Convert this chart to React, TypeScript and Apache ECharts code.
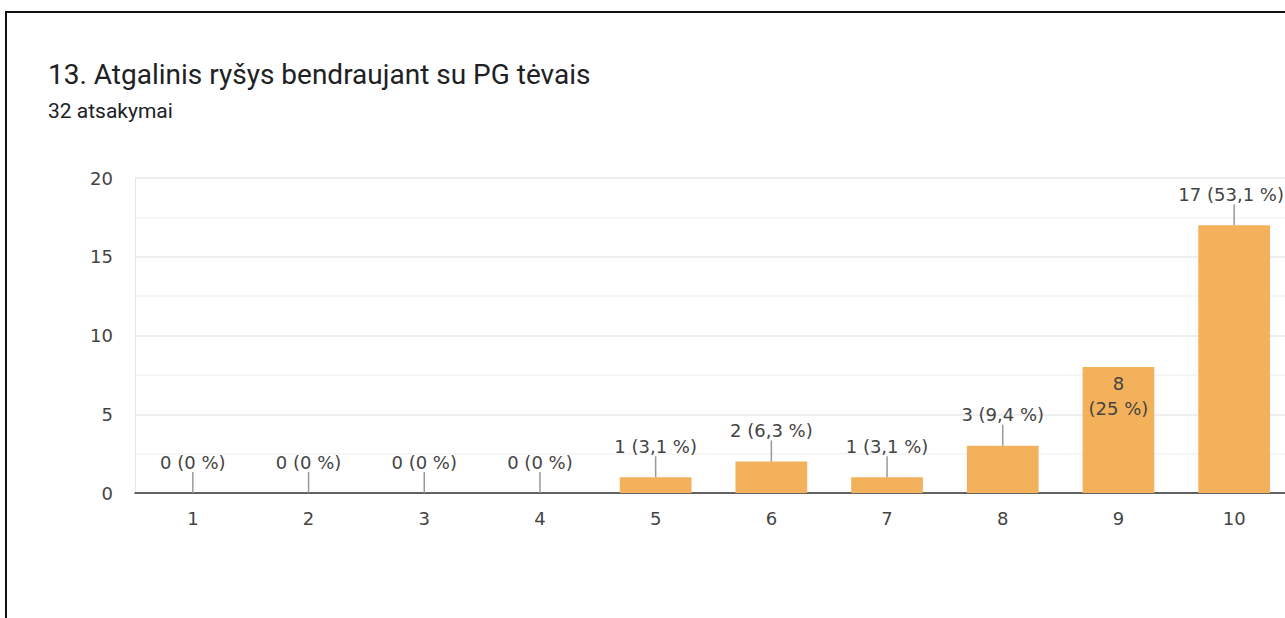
import React, { useEffect, useRef } from "react";
import * as echarts from "echarts";

const titleText = "13. Atgalinis ryšys bendraujant su PG tėvais";
const subtitleText = "32 atsakymai";
const categories = ["1", "2", "3", "4", "5", "6", "7", "8", "9", "10"];
const counts = [0, 0, 0, 0, 1, 2, 1, 3, 8, 17];
const total = 32;
const yTicks = { min: 0, max: 20, interval: 5 };
const insideLabelIndex = 8;
const edgeLabelIndex = 9;

const BAR_COLOR = "#F4B15B";
const TEXT_COLOR = "#444444";
const NUM_FONT = "DejaVu Sans";

function pct(v: number): string {
  let s = ((v / total) * 100).toFixed(1);
  if (s.endsWith(".0")) s = s.slice(0, -2);
  return s.replace(".", ",");
}

export default function App() {
  const ref = useRef<HTMLDivElement>(null);
  useEffect(() => {
    if (!ref.current) return;
    const chart = echarts.init(ref.current, null, { renderer: "svg" });
    const barData = counts.map((v, i) => {
      if (i === insideLabelIndex) {
        return {
          value: v,
          label: {
            show: true,
            position: "insideTop",
            distance: 4,
            lineHeight: 25,
            formatter: () => `${v}\n(${pct(v)} %)`,
          },
        };
      }
      if (i === edgeLabelIndex) {
        return { value: v, label: { show: true, offset: [-3, 0] } };
      }
      return { value: v };
    });
    const leaderData = counts
      .map((v, i) => [i, v])
      .filter((d) => d[0] !== insideLabelIndex);

    chart.setOption({
      animation: false,
      backgroundColor: "#ffffff",
      title: {
        text: titleText,
        subtext: subtitleText,
        left: 48,
        top: 60,
        itemGap: 12,
        padding: 0,
        textStyle: {
          fontFamily: "Roboto",
          fontSize: 28,
          fontWeight: "normal",
          color: "#202124",
        },
        subtextStyle: {
          fontFamily: "Roboto",
          fontSize: 21,
          color: "#202124",
        },
      },
      graphic: [
        {
          type: "rect",
          shape: { x: 6, y: 12, width: 1400, height: 800 },
          style: { fill: "none", stroke: "#111111", lineWidth: 2 },
          silent: true,
          z: 100,
        },
      ],
      grid: { left: 135, top: 178, width: 1157, height: 315 },
      xAxis: {
        type: "category",
        data: categories,
        axisLine: { show: true, lineStyle: { color: "#333333", width: 1.5 } },
        axisTick: { show: false },
        axisLabel: {
          margin: 15,
          fontSize: 18,
          lineHeight: 20,
          fontFamily: NUM_FONT,
          color: TEXT_COLOR,
        },
        splitLine: { show: false },
      },
      yAxis: {
        type: "value",
        min: yTicks.min,
        max: yTicks.max,
        interval: yTicks.interval,
        axisLine: { show: true, lineStyle: { color: "#e6e6e6", width: 1 } },
        axisTick: { show: false },
        axisLabel: {
          margin: 22,
          fontSize: 18,
          fontFamily: NUM_FONT,
          color: TEXT_COLOR,
        },
        splitLine: { show: true, lineStyle: { color: "#e8e8e8", width: 1.5 } },
        minorTick: { show: false, splitNumber: 2 },
        minorSplitLine: { show: true, lineStyle: { color: "#f3f3f3", width: 1.5 } },
      },
      series: [
        {
          type: "bar",
          data: barData,
          barWidth: "62%",
          itemStyle: { color: BAR_COLOR },
          label: {
            show: true,
            position: "top",
            distance: 21,
            fontSize: 18,
            lineHeight: 20,
            fontFamily: NUM_FONT,
            color: TEXT_COLOR,
            formatter: (p: any) => `${p.value} (${pct(p.value)} %)`,
          },
          z: 2,
        },
        {
          type: "custom",
          data: leaderData,
          z: 3,
          silent: true,
          renderItem: (params: any, api: any) => {
            const p = api.coord([api.value(0), api.value(1)]);
            return {
              type: "line",
              shape: { x1: p[0], y1: p[1], x2: p[0], y2: p[1] - 21 },
              style: { stroke: "#999999", lineWidth: 1.5 },
            };
          },
        },
      ],
    });
    return () => chart.dispose();
  }, []);
  return (
    <div
      style={{
        position: "fixed",
        left: 0,
        top: 0,
        width: 1285,
        height: 618,
        overflow: "hidden",
        background: "#fff",
      }}
    >
      <div ref={ref} style={{ width: 1300, height: 618 }} />
    </div>
  );
}
